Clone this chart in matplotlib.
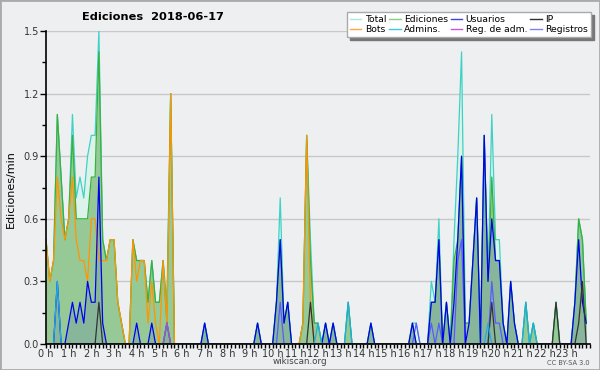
import matplotlib
matplotlib.use('Agg')
import matplotlib.pyplot as plt
from matplotlib.lines import Line2D
from matplotlib.patches import Rectangle
import numpy as np

# edits per minute, 10 minute bins (6 per hour, one hour per group)
total = [
    0.5, 0.3, 0.4, 1.1, 0.8, 0.5,  0.6, 1.1, 0.7, 0.8, 0.7, 0.9,  1.0, 1.0, 1.5, 0.5, 0.4, 0.5,  0.5, 0.2, 0.1, 0, 0, 0.5,
    0.4, 0.4, 0.4, 0.2, 0.4, 0.2,  0.2, 0.4, 0.2, 1.2, 0, 0,  0, 0, 0, 0, 0, 0,  0.1, 0, 0, 0, 0, 0,
    0, 0, 0, 0, 0, 0,  0, 0, 0.1, 0, 0, 0,  0, 0.2, 0.7, 0.1, 0.2, 0,  0, 0, 0.1, 1.0, 0.5, 0.1,
    0.1, 0, 0.1, 0, 0.1, 0,  0, 0, 0.2, 0, 0, 0,  0, 0, 0.1, 0, 0, 0,  0, 0, 0, 0, 0, 0,
    0, 0.1, 0.1, 0, 0, 0,  0.3, 0.2, 0.6, 0, 0.2, 0,  0.5, 0.9, 1.4, 0.1, 0.1, 0.4,  0.7, 0, 1.0, 0.3, 1.1, 0.5,
    0.5, 0.1, 0, 0.3, 0.1, 0,  0, 0.2, 0, 0.1, 0, 0,  0, 0, 0, 0.2, 0, 0,  0, 0, 0.2, 0.6, 0.5, 0.1,
]
ediciones = [
    0.5, 0.3, 0.4, 1.1, 0.8, 0.5,  0.6, 1.0, 0.6, 0.6, 0.6, 0.6,  0.8, 0.8, 1.4, 0.5, 0.4, 0.5,  0.5, 0.2, 0.1, 0, 0, 0.5,
    0.4, 0.4, 0.4, 0.2, 0.4, 0.2,  0.2, 0.4, 0.1, 1.2, 0, 0,  0, 0, 0, 0, 0, 0,  0.1, 0, 0, 0, 0, 0,
    0, 0, 0, 0, 0, 0,  0, 0, 0.1, 0, 0, 0,  0, 0.2, 0.5, 0.1, 0.2, 0,  0, 0, 0.1, 1.0, 0.4, 0.1,
    0.1, 0, 0.1, 0, 0.1, 0,  0, 0, 0.2, 0, 0, 0,  0, 0, 0.1, 0, 0, 0,  0, 0, 0, 0, 0, 0,
    0, 0.1, 0, 0, 0, 0,  0.2, 0.2, 0.5, 0, 0.2, 0,  0.4, 0.5, 0.9, 0.1, 0.1, 0.4,  0.7, 0, 1.0, 0.3, 0.8, 0.4,
    0.4, 0.1, 0, 0.3, 0.1, 0,  0, 0.2, 0, 0.1, 0, 0,  0, 0, 0, 0.2, 0, 0,  0, 0, 0.2, 0.6, 0.5, 0.1,
]
usuarios = [
    0, 0, 0, 0.3, 0, 0,  0.1, 0.2, 0.1, 0.2, 0.1, 0.3,  0.2, 0.2, 0.8, 0.1, 0, 0,  0, 0, 0, 0, 0, 0,
    0.1, 0, 0, 0, 0.1, 0,  0, 0, 0.1, 0, 0, 0,  0, 0, 0, 0, 0, 0,  0.1, 0, 0, 0, 0, 0,
    0, 0, 0, 0, 0, 0,  0, 0, 0.1, 0, 0, 0,  0, 0.2, 0.5, 0.1, 0.2, 0,  0, 0, 0, 0, 0, 0,
    0, 0, 0.1, 0, 0.1, 0,  0, 0, 0, 0, 0, 0,  0, 0, 0.1, 0, 0, 0,  0, 0, 0, 0, 0, 0,
    0, 0.1, 0, 0, 0, 0,  0.2, 0.2, 0.5, 0, 0.2, 0,  0.2, 0.5, 0.9, 0, 0.1, 0.4,  0.7, 0, 1.0, 0.3, 0.6, 0.4,
    0.4, 0.1, 0, 0.3, 0.1, 0,  0, 0, 0, 0, 0, 0,  0, 0, 0, 0, 0, 0,  0, 0, 0.2, 0.5, 0.2, 0.1,
]
bots = [
    0.5, 0.3, 0.4, 0.8, 0.6, 0.5,  0.6, 0.8, 0.5, 0.4, 0.4, 0.3,  0.6, 0.6, 0.4, 0.4, 0.4, 0.5,  0.5, 0.2, 0.1, 0, 0, 0.5,
    0.3, 0.4, 0.4, 0.1, 0.3, 0.1,  0, 0.4, 0.1, 1.2, 0, 0,  0, 0, 0, 0, 0, 0,  0, 0, 0, 0, 0, 0,
    0, 0, 0, 0, 0, 0,  0, 0, 0, 0, 0, 0,  0, 0, 0, 0, 0, 0,  0, 0, 0.1, 1.0, 0.2, 0,
] + [0] * 72
ip = [0] * 14 + [0.2] + [0] * 55 + [0.2] + [0] * 47 + [0.2] + [0] * 16 + [0.2] + [0] * 5 + [0.1, 0.3, 0]
admins = [0, 0, 0, 0.3] + [0] * 28 + [0.1] + [0] * 39 + [0.1] + [0] * 7 + [0.2] + [0] * 36 + [0.1] + [0] * 9 \
    + [0.2, 0, 0.1] + [0] * 14
reg_adm = [0] * 32 + [0.1] + [0] * 111
registros = [0] * 62 + [0.2] + [0] * 35 + [0.1] + [0] * 3 + [0.1, 0, 0.1] + [0] * 4 + [0.4, 0.5] + [0] * 7 \
    + [0.3, 0.1, 0.1] + [0] * 23

hours = np.arange(144) / 6.0
hour_labels = ['%d h' % h for h in range(24)]

bg = '#eeeff0'
fig = plt.figure(figsize=(6, 3.7), dpi=100, facecolor=bg)
ax = fig.add_axes([46 / 600, 1 - 344 / 370, 544 / 600, 313 / 370])
ax.set_facecolor(bg)

# fills
ax.fill_between(hours, total, color='#dcf3ec', lw=0)
ax.fill_between(hours, ediciones, color='#97c997', lw=0)
ax.fill_between(hours, usuarios, color='#4060b0', alpha=0.18, lw=0)

# lines
lw = 0.9
ax.plot(hours, total, color='#3ed2c6', lw=lw)
ax.plot(hours, ediciones, color='#3cb03c', lw=lw)
ax.plot(hours, bots, color='#ff9500', lw=lw)
ax.plot(hours, registros, color='#5a5aff', lw=lw)
ax.plot(hours, usuarios, color='#0000ee', lw=lw)
ax.plot(hours, ip, color='#333333', lw=lw)
ax.plot(hours, admins, color='#1eaee0', lw=lw)
ax.plot(hours, reg_adm, color='#b050b0', lw=lw)

ax.set_xlim(0, 24)
ax.set_ylim(0, 1.5)
ax.set_yticks(np.arange(0, 1.51, 0.3))
ax.set_yticklabels(['%.1f' % v for v in np.arange(0, 1.51, 0.3)])
ax.set_yticks(np.arange(0.15, 1.5, 0.3), minor=True)
ax.set_xticks(range(24))
ax.set_xticklabels(hour_labels)
ax.set_xticks(np.arange(0, 24.01, 1 / 6.0), minor=True)
ax.grid(axis='y', color='#c8c8c8', lw=1)
ax.set_axisbelow(True)
for s in ['top', 'right']:
    ax.spines[s].set_visible(False)
ax.spines['left'].set_linewidth(1.2)
ax.spines['bottom'].set_linewidth(1.2)
ax.tick_params(axis='y', which='major', length=4, width=1, labelsize=7, labelcolor='#333333', pad=1)
ax.tick_params(axis='y', which='minor', length=3, width=1)
ax.tick_params(axis='x', which='major', length=3, width=1, labelsize=7, labelcolor='#333333', pad=0.5)
ax.tick_params(axis='x', which='minor', length=3, width=1)

fig.text(153 / 600, 1 - 17 / 370, 'Ediciones  2018-06-17', ha='center', va='center',
         fontsize=8.2, fontweight='bold')
fig.text(11 / 600, 0.49, 'Ediciones/min', rotation=90, ha='center', va='center', fontsize=8)
fig.text(300 / 600, 1 - 362 / 370, 'wikiscan.org', ha='center', va='center', fontsize=6.3, color='#444444')
fig.text(590 / 600, 1 - 363 / 370, 'CC BY-SA 3.0', ha='right', va='center', fontsize=4.8, color='#555555')

names = ['Total', 'Bots', 'Ediciones', 'Admins.', 'Usuarios', 'Reg. de adm.', 'IP', 'Registros']
colors = ['#ace6de', '#ffa840', '#88d088', '#40c8dc', '#4040dd', '#d050e0', '#303030', '#8080f0']
handles = [Line2D([], [], color=c, lw=1) for c in colors]
leg = fig.legend(handles, names, ncol=4, loc='upper right', bbox_to_anchor=(591 / 600, 1 - 12 / 370),
                 fontsize=6.7, handlelength=1.2, handletextpad=0.35, columnspacing=0.35,
                 labelspacing=0.1, borderpad=0.35, borderaxespad=0, fancybox=False,
                 shadow={'color': '#777777', 'alpha': 1}, framealpha=1, edgecolor='#aaaaaa')

fig.patches.append(Rectangle((0, 0), 1, 1, transform=fig.transFigure, fill=False,
                             edgecolor='#aaaaaa', lw=2))

fig.savefig('out.png', dpi=100, facecolor=bg)
